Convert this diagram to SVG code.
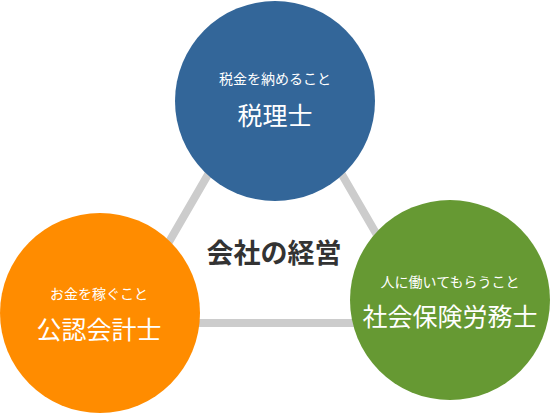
<svg xmlns="http://www.w3.org/2000/svg" width="550" height="413" viewBox="0 0 550 413">
<style>
.t{font-family:"Noto Sans CJK JP","Noto Sans CJK SC",sans-serif;text-anchor:middle;dominant-baseline:central;fill:#fff}
.s{font-size:14px}
.b{font-size:25px}
.c{font-family:"Noto Sans CJK JP","Noto Sans CJK SC",sans-serif;text-anchor:middle;dominant-baseline:central;fill:#333;font-size:27px;font-weight:700}
.ln{stroke:#cccccc;stroke-width:8;fill:none}
</style>
<rect width="550" height="413" fill="#fff"/>
<g id="connectors">
<polygon class="ln" points="275,59 428,323 122,323"/>
</g>
<g id="center">
<text class="c" x="274" y="251">会社の経営</text>
</g>
<g id="zeirishi">
<circle cx="275" cy="101" r="100" fill="#336699"/>
<text class="t s" x="275" y="78">税金を納めること</text>
<text class="t b" x="275" y="114">税理士</text>
</g>
<g id="kaikeishi">
<circle cx="100" cy="313" r="100" fill="#ff8c00"/>
<text class="t s" x="99" y="293">お金を稼ぐこと</text>
<text class="t b" x="99" y="328">公認会計士</text>
</g>
<g id="sharoushi">
<circle cx="450" cy="300" r="100" fill="#669933"/>
<text class="t s" x="450" y="281">人に働いてもらうこと</text>
<text class="t b" x="450" y="315">社会保険労務士</text>
</g>
</svg>
